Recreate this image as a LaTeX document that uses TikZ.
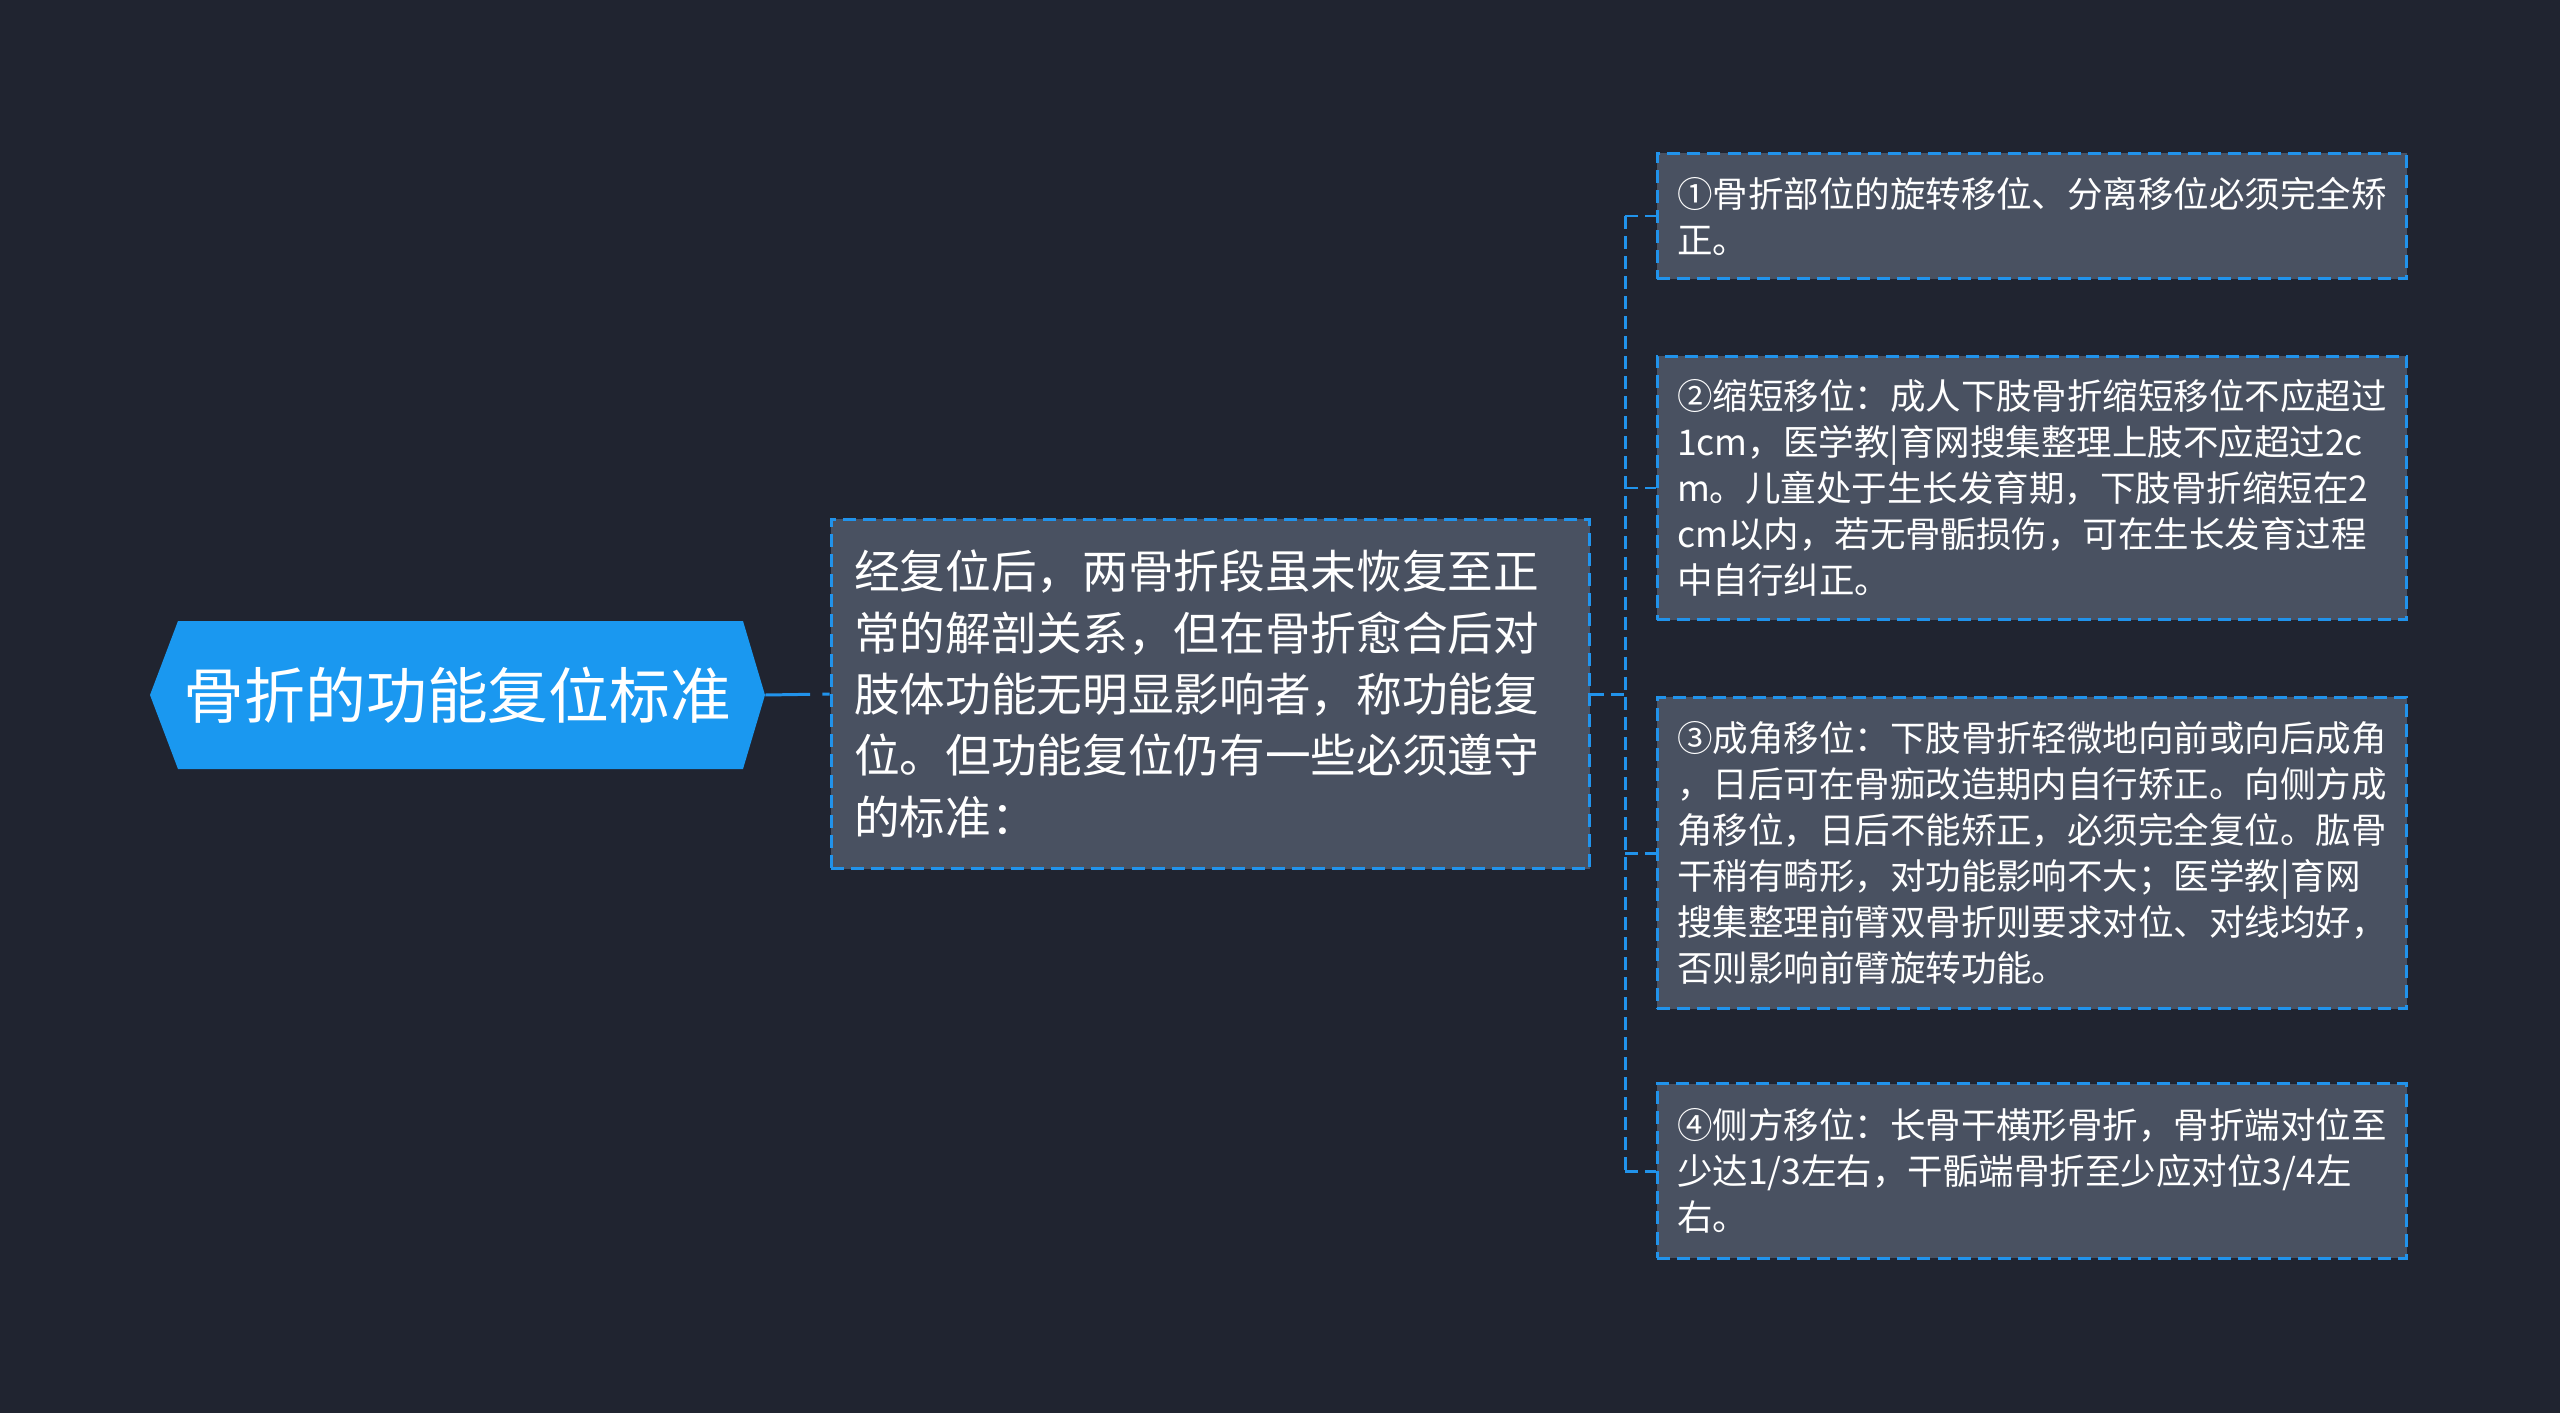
\documentclass[tikz,border=0pt]{standalone}
\usepackage{fontspec}
\setmainfont{Noto Sans CJK SC}
\definecolor{bgc}{RGB}{32,36,48}
\definecolor{nodefill}{RGB}{73,81,97}
\definecolor{bordc}{RGB}{33,147,235}
\definecolor{rootfill}{RGB}{26,152,240}
\tikzset{
  conn/.style={draw=bordc, line width=1.7pt, dash pattern=on 7.4pt off 4pt},
  boxbase/.style={draw=bordc, fill=nodefill, line width=1.7pt, dash pattern=on 7.4pt off 4pt,
    text=white, align=left, inner sep=0pt},
  leaf/.style={boxbase, font=\fontsize{20.2}{26.2}\selectfont, text width=14.2cm, minimum width=15cm},
  midbox/.style={boxbase, font=\fontsize{26}{34.9}\selectfont, text width=14.26cm, minimum width=15.18cm, minimum height=7cm},
  rootbox/.style={text=white, inner sep=0pt, minimum width=12.3cm, minimum height=2.96cm, font=\fontsize{34.6}{40}\selectfont}
}
\begin{document}
\begin{tikzpicture}[x=0.02cm,y=-0.02cm]
\fill[bgc] (0,0) rectangle (2560,1413);
\useasboundingbox (0,0) rectangle (2560,1413);
% root hexagon
\fill[rootfill] (150,695) -- (178,621) -- (743,621) -- (765,695) -- (743,769) -- (178,769) -- cycle;
\node[rootbox] (root) at (457.5,695) {骨折的功能复位标准};
% middle node
\node[midbox] (mid) at (1210.5,694) {经复位后，两骨折段虽未恢复至正\\常的解剖关系，但在骨折愈合后对\\肢体功能无明显影响者，称功能复\\位。但功能复位仍有一些必须遵守\\的标准：};
% leaves
\node[leaf, minimum height=2.52cm] (L1) at (2032,216) {①骨折部位的旋转移位、分离移位必须完全矫\\正。};
\node[leaf, minimum height=5.28cm] (L2) at (2032,488) {②缩短移位：成人下肢骨折缩短移位不应超过\\1cm，医学教|育网搜集整理上肢不应超过2c\\m。儿童处于生长发育期，下肢骨折缩短在2\\cm以内，若无骨骺损伤，可在生长发育过程\\中自行纠正。};
\node[leaf, minimum height=6.24cm] (L3) at (2032,853) {③成角移位：下肢骨折轻微地向前或向后成角\\，日后可在骨痂改造期内自行矫正。向侧方成\\角移位，日后不能矫正，必须完全复位。肱骨\\干稍有畸形，对功能影响不大；医学教|育网\\搜集整理前臂双骨折则要求对位、对线均好，\\否则影响前臂旋转功能。};
\node[leaf, minimum height=3.5cm] (L4) at (2032,1171) {④侧方移位：长骨干横形骨折，骨折端对位至\\少达1/3左右，干骺端骨折至少应对位3/4左\\右。};
% connectors
\draw[draw=bordc, line width=1.7pt, dash pattern=on 25.5pt off 7pt on 5pt off 4pt] (root.east) -- (mid.west);
\coordinate (br) at (1625,694);
\draw[conn] (mid.east) -- (br);
\draw[conn] (br |- L1.west) -- (br |- L4.west);
\foreach \n in {L1,L2,L3,L4} {
  \draw[conn] (br |- \n.west) -- (\n.west);
}
\end{tikzpicture}
\end{document}
